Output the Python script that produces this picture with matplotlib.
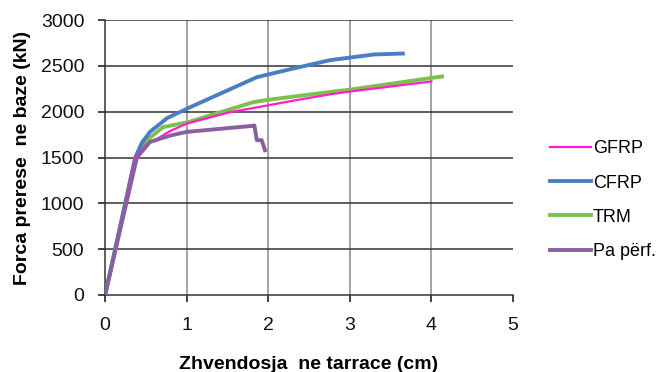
import matplotlib
matplotlib.use("Agg")
import matplotlib.pyplot as plt

plt.rcParams['font.family'] = ['Liberation Sans', 'DejaVu Sans']

# Displacement (cm) and base force (kN) per retrofit scheme
gfrp_x = [0, 0.37, 0.5, 0.63, 0.8, 1.0, 1.53, 2.0, 2.27, 2.76, 3.0, 4.0]
gfrp_y = [0, 1500, 1640, 1700, 1790, 1870, 1995, 2070, 2115, 2190, 2220, 2330]

cfrp_x = [0, 0.37, 0.45, 0.55, 0.76, 1.02, 1.86, 2.3, 2.76, 3.3, 3.65]
cfrp_y = [0, 1500, 1660, 1780, 1930, 2040, 2377, 2470, 2563, 2625, 2635]

trm_x = [0, 0.37, 0.5, 0.71, 1.02, 1.82, 2.0, 2.76, 3.0, 4.13]
trm_y = [0, 1500, 1680, 1832, 1887, 2105, 2130, 2216, 2240, 2385]

ref_x = [0, 0.39, 0.55, 0.8, 1.0, 1.8, 1.83, 1.86, 1.92, 1.96]
ref_y = [0, 1500, 1670, 1740, 1780, 1845, 1850, 1690, 1690, 1580]

labels = ["GFRP", "CFRP", "TRM", "Pa përf."]
x_ticks = [0, 1, 2, 3, 4, 5]
y_ticks = [0, 500, 1000, 1500, 2000, 2500, 3000]

fig = plt.figure(figsize=(6.61, 3.72), dpi=100)
ax = fig.add_axes([0.159, 0.207, 0.617, 0.739])

ax.plot(gfrp_x, gfrp_y, color="#FF1FCF", lw=1.6, label=labels[0], zorder=5)
ax.plot(cfrp_x, cfrp_y, color="#4A7EC4", lw=2.8, label=labels[1], zorder=4)
ax.plot(trm_x, trm_y, color="#7CC04E", lw=2.8, label=labels[2], zorder=3)
ax.plot(ref_x, ref_y, color="#8A5FA0", lw=2.8, label=labels[3], zorder=6)

ax.set_xlim(0, 5)
ax.set_ylim(0, 3000)
ax.set_xticks(x_ticks)
ax.set_yticks(y_ticks)

# Vertical grid grey, horizontal grid dark
for xv in x_ticks[1:-1]:
    ax.axvline(xv, color="#9a9a9a", lw=1.3, zorder=1)
for yv in y_ticks[1:]:
    ax.axhline(yv, color="#333333", lw=1.1, zorder=1)

for s in ["top", "right"]:
    ax.spines[s].set_visible(False)
ax.spines["left"].set_color("#333333")
ax.spines["bottom"].set_color("#333333")
ax.spines["left"].set_linewidth(1.1)
ax.spines["bottom"].set_linewidth(1.1)

ax.tick_params(axis="both", labelsize=14, colors="#111111", length=5, width=1.1, direction="out")
ax.tick_params(axis="x", pad=11)
ax.tick_params(axis="y", pad=10)

ax.set_xlabel("Zhvendosja  ne tarrace (cm)", fontsize=14, fontweight="bold", labelpad=16)
ax.set_ylabel("Forca prerese  ne baze (kN)", fontsize=14, fontweight="bold", labelpad=7)

fig.legend(loc="center left", bbox_to_anchor=(0.818, 0.462), frameon=False, fontsize=13,
           handlelength=2.3, handletextpad=0.08, labelspacing=0.95, borderpad=0)

fig.savefig("out.png", dpi=100)
